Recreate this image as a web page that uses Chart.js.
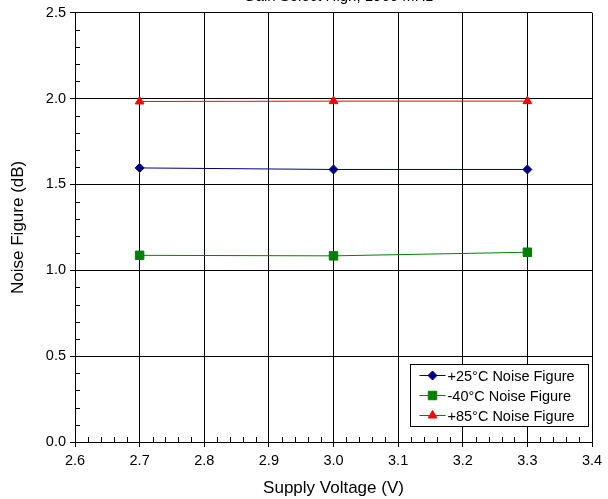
<!DOCTYPE html>
<html><head><meta charset="utf-8">
<script src="https://cdn.jsdelivr.net/npm/chart.js@4"></script>
<style>html,body{margin:0;padding:0;background:#fff}#wrap{width:608px;height:499px}</style>
</head><body><div id="wrap"><canvas id="c" width="608" height="499"></canvas></div>
<script>
const voltages = [2.7, 3.0, 3.3];
const nf25 = [1.596, 1.587, 1.587];
const nfM40 = [1.087, 1.084, 1.105];
const nf85 = [1.983, 1.985, 1.985];
const seriesNames = ['+25°C Noise Figure', '-40°C Noise Figure', '+85°C Noise Figure'];
const titleText = 'Gain Select High, 1960 MHz';

const FONT = 'Liberation Sans, Arial, sans-serif';
function pts(vals){ return voltages.map((v,i)=>({x:v,y:vals[i]})); }

const minorTicks = {
  id:'minorTicks',
  afterDraw(chart){
    const ctx=chart.ctx, xs=chart.scales.x, ys=chart.scales.y;
    const a=chart.chartArea;
    ctx.save(); ctx.strokeStyle='#000'; ctx.lineWidth=1;
    ctx.beginPath();
    for(let i=0;i<=40;i++){
      if(i%5===0) continue;
      const v=2.6+i*0.02; const px=Math.round(xs.getPixelForValue(v))+0.5;
      ctx.moveTo(px,a.bottom); ctx.lineTo(px,a.bottom-5);
    }
    for(let i=0;i<=25;i++){
      if(i%5===0) continue;
      const v=i*0.1; const py=Math.round(ys.getPixelForValue(v))+0.5;
      ctx.moveTo(a.left,py); ctx.lineTo(a.left+5,py);
    }
    ctx.stroke();
    ctx.fillStyle='#000'; ctx.font='15px '+FONT; ctx.textAlign='center'; ctx.textBaseline='bottom';
    ctx.fillText(titleText,(a.left+a.right)/2+5,4);
    ctx.restore();
  }
};

const boxLegend = {
  id:'boxLegend',
  afterDraw(chart){
    const ctx=chart.ctx;
    const x0=410.5,y0=364.5,w=178,h=62;
    ctx.save();
    ctx.fillStyle='#fff'; ctx.fillRect(x0,y0,w,h);
    ctx.strokeStyle='#000'; ctx.lineWidth=1; ctx.strokeRect(x0,y0,w,h);
    ctx.font='14.5px '+FONT; ctx.textBaseline='middle'; ctx.textAlign='left';
    chart.data.datasets.forEach((ds,i)=>{
      const yy=y0+11+i*20;
      ctx.strokeStyle=ds.borderColor; ctx.lineWidth=1;
      ctx.beginPath(); ctx.moveTo(x0+9,yy); ctx.lineTo(x0+35,yy); ctx.stroke();
      ctx.fillStyle=ds.pointBackgroundColor; ctx.strokeStyle=ds.borderColor;
      Chart.helpers.drawPoint(ctx,{pointStyle:ds.pointStyle,radius:ds.pointRadius,borderWidth:1,rotation:0},x0+22,yy);
      ctx.fillStyle='#000';
      ctx.fillText(ds.label,x0+37,yy+1);
    });
    ctx.restore();
  }
};

const mk=(label,vals,color,style,r)=>({label,data:pts(vals),borderColor:color,backgroundColor:color,
  pointBackgroundColor:color,pointBorderColor:color,pointStyle:style,pointRadius:r,pointBorderWidth:1,
  borderWidth:1,showLine:true,tension:0,fill:false});

new Chart(document.getElementById('c'),{
  type:'scatter',
  data:{datasets:[
    mk(seriesNames[0],nf25,'#000080','rectRot',4.5),
    mk(seriesNames[1],nfM40,'#008000','rect',6),
    mk(seriesNames[2],nf85,'#ff0000','triangle',5)
  ]},
  options:{
    responsive:false,animation:false,devicePixelRatio:1,
    layout:{padding:{left:8,right:16,top:12,bottom:0}},
    plugins:{legend:{display:false},tooltip:{enabled:false},title:{display:false}},
    scales:{
      x:{type:'linear',min:2.6,max:3.4,
        afterFit(s){s.height=57;},
        ticks:{stepSize:0.1,color:'#000',font:{family:FONT,size:14.5},padding:5,maxRotation:0,
          callback:v=>v.toFixed(1)},
        grid:{color:'#000',lineWidth:1,tickLength:5,drawTicks:true},
        border:{color:'#000',width:1},
        title:{display:true,text:'Supply Voltage (V)',color:'#000',font:{family:FONT,size:17},padding:{top:2,bottom:0}}},
      y:{type:'linear',min:0,max:2.5,
        afterFit(s){s.width=67;},
        ticks:{stepSize:0.5,color:'#000',font:{family:FONT,size:14.5},padding:4,callback:v=>v.toFixed(1)},
        grid:{color:'#000',lineWidth:1,tickLength:5,drawTicks:true},
        border:{color:'#000',width:1},
        title:{display:true,text:'Noise Figure (dB)',color:'#000',font:{family:FONT,size:17},padding:{top:0,bottom:4}}}
    }
  },
  plugins:[minorTicks,boxLegend]
});
</script></body></html>
